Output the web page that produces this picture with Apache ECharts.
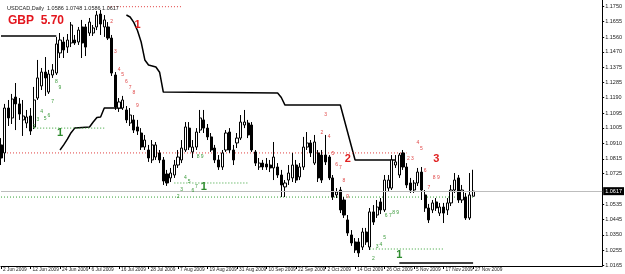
<!DOCTYPE html>
<html>
<head>
<meta charset="utf-8">
<script src="https://cdn.jsdelivr.net/npm/echarts@6/dist/echarts.min.js"></script>
<style>
  html, body { margin: 0; padding: 0; background: #fff; }
  #chart { width: 625px; height: 274px; }
</style>
</head>
<body>
<div id="chart"></div>
<script>
const symbolName = "USDCAD,Daily";
const moneyText = "GBP  5.70";

// daily bars, 2 Jun 2009 .. 27 Nov 2009
const opens = [
  1.0900, 1.0851, 1.1126, 1.1065, 1.1193, 1.1151, 1.1053, 1.1034, 1.1077, 1.1010,
  1.1187, 1.1261, 1.1346, 1.1224, 1.1328, 1.1340, 1.1463, 1.1530, 1.1499, 1.1524,
  1.1542, 1.1530, 1.1622, 1.1622, 1.1585, 1.1585, 1.1622, 1.1701, 1.1622, 1.1622,
  1.1554, 1.1328, 1.1126, 1.1126, 1.1114, 1.1034, 1.1053, 1.1010, 1.0973, 1.0887,
  1.0869, 1.0808, 1.0826, 1.0851, 1.0808, 1.0722, 1.0698, 1.0716, 1.0777, 1.0808,
  1.0869, 1.1003, 1.0857, 1.0887, 1.0991, 1.1053, 1.1003, 1.0949, 1.0881, 1.0808,
  1.0765, 1.0869, 1.0979, 1.0869, 1.0912, 1.0942, 1.1022, 1.1034, 1.1022, 1.0857,
  1.0765, 1.0789, 1.0783, 1.0777, 1.0759, 1.0765, 1.0716, 1.0643, 1.0685, 1.0698,
  1.0777, 1.0704, 1.0765, 1.0887, 1.0912, 1.0789, 1.0851, 1.0838, 1.0838, 1.0826,
  1.0698, 1.0594, 1.0624, 1.0563, 1.0441, 1.0349, 1.0306, 1.0306, 1.0275, 1.0367,
  1.0275, 1.0490, 1.0471, 1.0551, 1.0502, 1.0636, 1.0636, 1.0777, 1.0716, 1.0851,
  1.0765, 1.0667, 1.0624, 1.0667, 1.0734, 1.0594, 1.0514, 1.0502, 1.0551, 1.0483,
  1.0520, 1.0502, 1.0545, 1.0624, 1.0698, 1.0563, 1.0581, 1.0453, 1.0586
];
const closes = [
  1.0820, 1.1126, 1.1065, 1.1181, 1.1151, 1.1089, 1.1077, 1.1071, 1.0985, 1.1175,
  1.1310, 1.1346, 1.1310, 1.1334, 1.1359, 1.1518, 1.1542, 1.1481, 1.1542, 1.1634,
  1.1524, 1.1603, 1.1524, 1.1499, 1.1652, 1.1616, 1.1695, 1.1640, 1.1665, 1.1554,
  1.1340, 1.1132, 1.1163, 1.1175, 1.1053, 1.1083, 1.0991, 1.0985, 1.0887, 1.0930,
  1.0820, 1.0900, 1.0900, 1.0808, 1.0679, 1.0667, 1.0728, 1.0777, 1.0826, 1.0881,
  1.1010, 1.0887, 1.0887, 1.0979, 1.1065, 1.1003, 1.0949, 1.0869, 1.0808, 1.0765,
  1.0851, 1.0973, 1.0869, 1.0808, 1.0942, 1.1040, 1.1040, 1.0961, 1.0869, 1.0789,
  1.0789, 1.0765, 1.0765, 1.0759, 1.0826, 1.0716, 1.0655, 1.0667, 1.0728, 1.0777,
  1.0685, 1.0765, 1.0887, 1.0912, 1.0851, 1.0918, 1.0698, 1.0685, 1.0796, 1.0698,
  1.0581, 1.0612, 1.0502, 1.0471, 1.0361, 1.0300, 1.0257, 1.0239, 1.0367, 1.0306,
  1.0490, 1.0428, 1.0520, 1.0502, 1.0685, 1.0685, 1.0808, 1.0796, 1.0838, 1.0765,
  1.0655, 1.0624, 1.0667, 1.0734, 1.0624, 1.0514, 1.0441, 1.0545, 1.0514, 1.0520,
  1.0483, 1.0545, 1.0624, 1.0685, 1.0563, 1.0624, 1.0453, 1.0594, 1.0617
];
const highs = [
  1.0942, 1.1151, 1.1175, 1.1212, 1.1279, 1.1187, 1.1175, 1.1114, 1.1126, 1.1255,
  1.1420, 1.1371, 1.1438, 1.1359, 1.1395, 1.1561, 1.1585, 1.1561, 1.1579, 1.1652,
  1.1573, 1.1622, 1.1665, 1.1640, 1.1677, 1.1634, 1.1720, 1.1726, 1.1695, 1.1652,
  1.1573, 1.1346, 1.1187, 1.1200, 1.1138, 1.1126, 1.1083, 1.1053, 1.1003, 1.0961,
  1.0900, 1.0930, 1.0918, 1.0869, 1.0826, 1.0747, 1.0759, 1.0808, 1.0869, 1.0930,
  1.1040, 1.1040, 1.0930, 1.1003, 1.1114, 1.1114, 1.1028, 1.0973, 1.0900, 1.0838,
  1.0869, 1.0991, 1.1003, 1.0900, 1.0973, 1.1083, 1.1114, 1.1053, 1.1040, 1.0869,
  1.0820, 1.0808, 1.0820, 1.0808, 1.0918, 1.0789, 1.0747, 1.0685, 1.0777, 1.0851,
  1.0808, 1.0789, 1.0949, 1.0979, 1.0930, 1.0961, 1.0869, 1.0869, 1.0961, 1.0838,
  1.0716, 1.0636, 1.0643, 1.0581, 1.0471, 1.0379, 1.0330, 1.0330, 1.0392, 1.0392,
  1.0514, 1.0532, 1.0563, 1.0575, 1.0716, 1.0716, 1.0838, 1.0838, 1.0851, 1.0869,
  1.0789, 1.0698, 1.0685, 1.0759, 1.0765, 1.0624, 1.0539, 1.0563, 1.0575, 1.0545,
  1.0545, 1.0575, 1.0655, 1.0728, 1.0716, 1.0655, 1.0606, 1.0728, 1.0748
];
const lows = [
  1.0777, 1.0796, 1.1016, 1.1028, 1.0991, 1.1053, 1.0955, 1.1003, 1.0961, 1.0997,
  1.1175, 1.1236, 1.1200, 1.1212, 1.1310, 1.1328, 1.1432, 1.1432, 1.1463, 1.1499,
  1.1512, 1.1512, 1.1432, 1.1444, 1.1567, 1.1567, 1.1603, 1.1573, 1.1561, 1.1542,
  1.1322, 1.1114, 1.1102, 1.1114, 1.1034, 1.1016, 1.0973, 1.0961, 1.0869, 1.0869,
  1.0796, 1.0789, 1.0808, 1.0789, 1.0655, 1.0649, 1.0673, 1.0698, 1.0759, 1.0789,
  1.0857, 1.0869, 1.0820, 1.0869, 1.0973, 1.0973, 1.0930, 1.0857, 1.0789, 1.0747,
  1.0747, 1.0857, 1.0851, 1.0777, 1.0881, 1.0930, 1.1003, 1.0942, 1.0857, 1.0771,
  1.0747, 1.0747, 1.0747, 1.0734, 1.0685, 1.0698, 1.0581, 1.0581, 1.0655, 1.0673,
  1.0667, 1.0685, 1.0747, 1.0869, 1.0826, 1.0777, 1.0673, 1.0667, 1.0777, 1.0685,
  1.0563, 1.0575, 1.0483, 1.0453, 1.0343, 1.0282, 1.0239, 1.0214, 1.0257, 1.0288,
  1.0257, 1.0410, 1.0453, 1.0477, 1.0490, 1.0612, 1.0624, 1.0759, 1.0698, 1.0747,
  1.0636, 1.0606, 1.0606, 1.0649, 1.0563, 1.0490, 1.0422, 1.0483, 1.0496, 1.0465,
  1.0422, 1.0471, 1.0526, 1.0606, 1.0545, 1.0545, 1.0441, 1.0441, 1.0586
];

const dateTicks = [
  "2 Jun 2009", "12 Jun 2009", "24 Jun 2009", "6 Jul 2009", "16 Jul 2009",
  "28 Jul 2009", "7 Aug 2009", "19 Aug 2009", "31 Aug 2009", "10 Sep 2009",
  "22 Sep 2009", "2 Oct 2009", "14 Oct 2009", "26 Oct 2009", "5 Nov 2009",
  "17 Nov 2009", "27 Nov 2009"
];
const priceTicks = [
  1.0165, 1.0255, 1.0350, 1.0445, 1.0535, 1.0725, 1.0815, 1.0910, 1.1005,
  1.1095, 1.1190, 1.1285, 1.1375, 1.1470, 1.1560, 1.1655, 1.1750
];

// trailing stop line, [bar, price]
const stopA = [[0, 1.1567], [15, 1.1567]];
const stopB = [[16, 1.0869], [17, 1.0900], [18, 1.0935], [19, 1.0975], [20, 1.1003], [24, 1.1010],
  [25, 1.1040], [26, 1.1068], [27, 1.1071], [28, 1.1126], [33, 1.1126]];
const stopC = [[34, 1.1695], [35, 1.1683], [36, 1.1650], [37, 1.1600], [38, 1.1530], [39, 1.1420],
  [40, 1.1389], [42, 1.1377], [43, 1.1345], [44, 1.1224], [75, 1.1218], [76, 1.1190], [77, 1.1144],
  [92, 1.1144], [96, 1.0808], [107, 1.0808]];
const stopD = [[108, 1.0177], [128, 1.0177]];

// dotted levels, [from bar, to bar, price]
const redLevels = [[29, 49, 1.1746], [0, 110, 1.0851]];
const greenLevels = [[9, 28, 1.1003], [47, 67, 1.0667], [0, 128, 1.0581], [100, 120, 1.0263]];

// counts, [bar, price, text]
const redCounts = [
  [30, 1.1652, "2"], [31, 1.1469, "3"], [32, 1.1358, "4"], [33, 1.1328, "5"], [34, 1.1285, "6"],
  [35, 1.1248, "7"], [36, 1.1218, "8"], [37, 1.1138, "9"],
  [87, 1.0973, "2"], [88, 1.1083, "3"], [89, 1.0948, "4"], [90, 1.0844, "5"], [91, 1.0777, "6"],
  [92, 1.0759, "7"], [93, 1.0679, "8"], [94, 1.0581, "9"],
  [111, 1.0814, "2 3"], [113, 1.0912, "4"], [114, 1.0875, "5"], [115, 1.0740, "6"],
  [116, 1.0636, "7"], [118, 1.0697, "8 9"]
];
const greenCounts = [
  [9, 1.1010, "2"], [10, 1.1052, "3"], [11, 1.1101, "4"], [12, 1.1059, "5"], [13, 1.1077, "6"],
  [14, 1.1163, "7"], [15, 1.1285, "8"], [16, 1.1248, "9"],
  [48, 1.0581, "2"], [49, 1.0624, "3"], [50, 1.0697, "4"], [51, 1.0673, "5"], [52, 1.0618, "6"],
  [53, 1.0642, "7"], [54, 1.0826, "8 9"],
  [101, 1.0202, "2"], [102, 1.0275, "3"], [103, 1.0287, "4"], [104, 1.0330, "5"],
  [105, 1.0465, "6 7"], [107, 1.0483, "8 9"]
];
const redMarks = [[37, 1.1634, "1"], [94, 1.0814, "2"], [118, 1.0814, "3"]];
const greenMarks = [[16, 1.0973, "1"], [55, 1.0643, "1"], [108, 1.0226, "1"]];

const barCount = 164;
const last = opens.length - 1;
const currentPrice = closes[last];

const cats = [];
for (let i = 0; i < barCount; i++) cats.push(i);
const candles = opens.map((o, i) => [o, closes[i], lows[i], highs[i]]);
const fmt = v => v.toFixed(4);
const isDateTick = i => i % 8 === 0 && i / 8 < dateTicks.length;
const font = "Liberation Sans";

const lineSeries = (data, color, width, type) => ({
  type: "line",
  data: data,
  symbol: "none",
  silent: true,
  animation: false,
  lineStyle: { color: color, width: width, type: type },
  z: 3
});
const levelSeries = (levels, color) =>
  levels.map(([a, b, p]) => lineSeries([[a, p], [b, p]], color, 1, [1, 2]));
const textSeries = (items, color, size, weight) => ({
  type: "scatter",
  data: items.map(([i, p, t]) => ({ value: [i, p], name: t })),
  symbolSize: 0,
  itemStyle: { color: color, opacity: 1 },
  silent: true,
  label: {
    show: true,
    position: "inside",
    formatter: p => p.name,
    color: color,
    opacity: 1,
    textBorderWidth: 0,
    fontSize: size,
    fontWeight: weight,
    fontFamily: font
  },
  emphasis: { disabled: true },
  labelLayout: { hideOverlap: false },
  z: 6
});

const chart = echarts.init(document.getElementById("chart"), null, { renderer: "canvas" });
chart.setOption({
  animation: false,
  backgroundColor: "#fff",
  title: [
    {
      text: symbolName + "  " + [opens[last], highs[last], lows[last], closes[last]].map(fmt).join(" "),
      left: 2, top: 0,
      textStyle: { fontSize: 5.5, fontWeight: "normal", color: "#222", fontFamily: font }
    },
    {
      text: moneyText,
      left: 3, top: 10,
      textStyle: { fontSize: 12, fontWeight: "bold", color: "#e3161e", fontFamily: font }
    }
  ],
  grid: { left: -2, right: 20, top: 0, bottom: 8 },
  xAxis: {
    type: "category",
    data: cats,
    boundaryGap: false,
    axisLine: { lineStyle: { color: "#000", width: 1 } },
    axisTick: { show: true, interval: i => isDateTick(i), length: 3, lineStyle: { color: "#000" } },
    axisLabel: {
      interval: i => isDateTick(i),
      formatter: (v, i) => (isDateTick(i) ? dateTicks[i / 8] : ""),
      align: "left",
      padding: [0, 0, 0, 2],
      margin: 1,
      fontSize: 4.8,
      color: "#222",
      fontFamily: font,
      hideOverlap: false,
      showMinLabel: true,
      showMaxLabel: true
    },
    splitLine: { show: false }
  },
  yAxis: {
    type: "value",
    position: "right",
    min: 1.0159,
    max: 1.1787,
    axisLine: { show: true, lineStyle: { color: "#000", width: 1 } },
    axisTick: { show: true, customValues: priceTicks, length: 2, lineStyle: { color: "#000" } },
    axisLabel: {
      customValues: priceTicks,
      formatter: v => fmt(v),
      margin: 3,
      fontSize: 5.5,
      color: "#222",
      fontFamily: font
    },
    splitLine: { show: false }
  },
  series: [
    {
      type: "candlestick",
      data: candles,
      barWidth: 2.6,
      itemStyle: { color: "#fff", color0: "#000", borderColor: "#000", borderColor0: "#000", borderWidth: 1 },
      markLine: {
        silent: true,
        symbol: "none",
        precision: 4,
        data: [{ yAxis: currentPrice }],
        lineStyle: { color: "#bdbdbd", width: 1, type: "solid" },
        label: {
          show: true,
          position: "end",
          distance: 1,
          formatter: () => fmt(currentPrice),
          backgroundColor: "#000",
          color: "#fff",
          padding: [1, 2],
          fontSize: 5.5,
          fontFamily: font
        }
      },
      z: 4
    },
    lineSeries(stopA, "#000", 1.5, "solid"),
    lineSeries(stopB, "#000", 1.5, "solid"),
    lineSeries(stopC, "#000", 1.5, "solid"),
    lineSeries(stopD, "#000", 1.5, "solid"),
    ...levelSeries(redLevels, "#e04040"),
    ...levelSeries(greenLevels, "#33a033"),
    textSeries(redCounts, "#e04848", 5, "normal"),
    textSeries(greenCounts, "#3a9a3a", 5, "normal"),
    textSeries(redMarks, "#e02020", 11, "bold"),
    textSeries(greenMarks, "#2e8b2e", 11, "bold")
  ]
});
</script>
</body>
</html>
